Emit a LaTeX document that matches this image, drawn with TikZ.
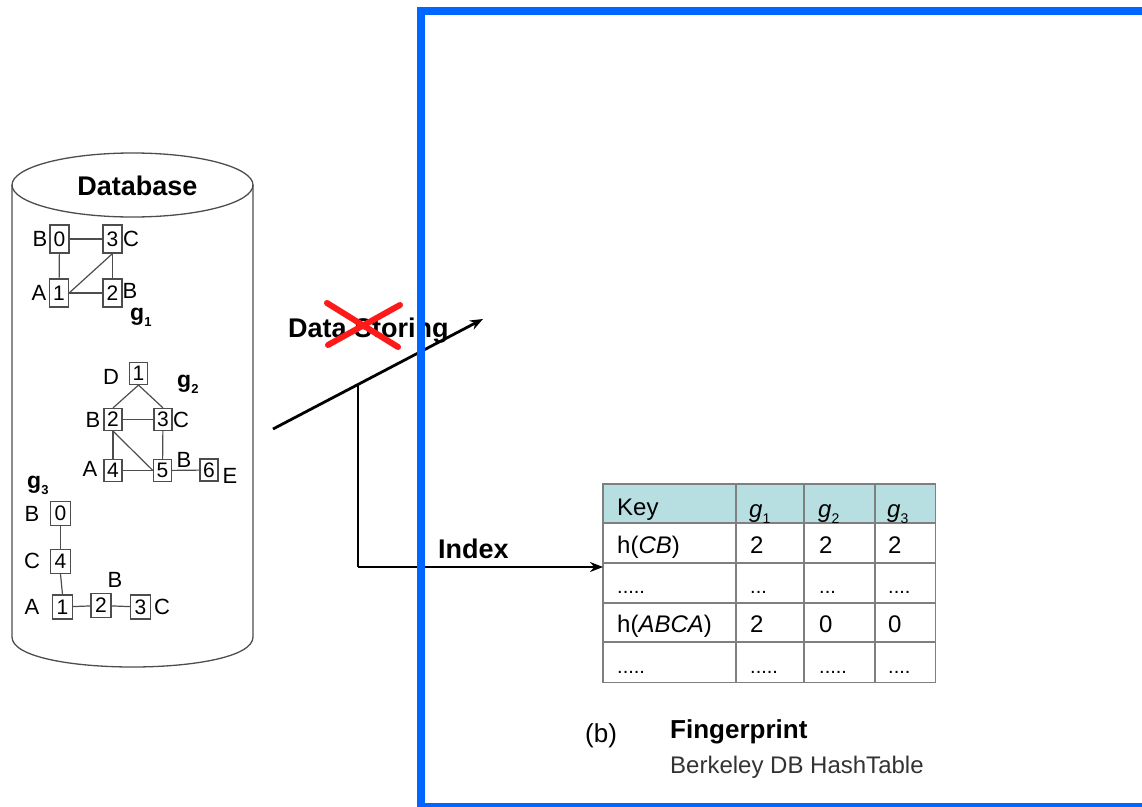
\documentclass[tikz,border=0pt]{standalone}
\usepackage{fontspec}
\setmainfont{Liberation Sans}
\usetikzlibrary{arrows.meta}
\definecolor{blueframe}{HTML}{0066FF}
\definecolor{hdrfill}{HTML}{B7DEE1}
\definecolor{tblgray}{HTML}{7F7F7F}
\definecolor{gline}{HTML}{4D4D4D}
\definecolor{redx}{HTML}{FF1A1A}
\definecolor{subtxt}{HTML}{333333}
\newcommand\fsz[1]{\fontsize{#1}{#1}\selectfont}
\newcommand\gsubb[1]{g\raisebox{-0.3em}{\fsz{13}#1}}
\newcommand\gsubi[1]{\textit{g}\raisebox{-0.25em}{\fsz{14}#1}}
\begin{document}
\begin{tikzpicture}[x=1pt,y=-1pt,
  vbox/.style={draw=gline, line width=1.2pt, inner sep=0pt, font=\fsz{21}},
  gabox/.style={vbox, minimum width=19pt, minimum height=28pt},
  gbbox/.style={vbox, minimum width=18pt, minimum height=22pt},
  gcbox/.style={vbox, minimum width=20pt, minimum height=24pt},
  lbl/.style={inner sep=0pt, font=\fsz{22}},
  gname/.style={inner sep=0pt, anchor=base west, font=\fsz{23}\bfseries},
  edge/.style={draw=gline, line width=1.2pt},
  big/.style={inner sep=0pt, font=\fsz{27}\bfseries},
  arrline/.style={line width=2.8pt, -{Stealth[length=13pt,width=10pt]}},
  tcell/.style={inner sep=0pt, anchor=base west, font=\fsz{24}},
  tdots/.style={inner sep=0pt, anchor=base west, font=\fsz{20}},
  tgrid/.style={draw=tblgray, line width=1.8pt},
  redcross/.style={draw=redx, line width=6pt, line cap=round},
  frame/.style={draw=blueframe, line width=8pt}]
\useasboundingbox (0,0) rectangle (1142,806);

% ---------------- database cylinder ----------------
\draw[line width=1.3pt, draw=gline] (132.5,185) ellipse [x radius=120.5, y radius=32];
\draw[line width=1.3pt, draw=gline] (12,185) -- (12,637)
   .. controls (12,677) and (253,677) .. (253,637) -- (253,185);
\node[big, anchor=base] (dbtitle) at (137.5,195) {Database};

% ---------------- g1 ----------------
\node[gabox] (a0) at (59.5,239) {0};
\node[gabox] (a3) at (112.5,239) {3};
\node[gabox] (a1) at (59,293) {1};
\node[gabox] (a2) at (112.5,293) {2};
\draw[edge] (a0) -- (a3);
\draw[edge] (a0) -- (a1);
\draw[edge] (a3) -- (a2);
\draw[edge] (a1) -- (a2);
\draw[edge] (a1.east) -- (a3.south);
\node[lbl] (la0) at (40,239) {B};
\node[lbl] (la3) at (131,239) {C};
\node[lbl] (la1) at (39,293) {A};
\node[lbl] (la2) at (130,291) {B};
\node[gname] (g1name) at (130,320) {\gsubb{1}};

% ---------------- g2 ----------------
\node[gbbox] (b1) at (138.5,373.5) {1};
\node[gbbox] (b2) at (113,419.5) {2};
\node[gbbox] (b3) at (163,419.5) {3};
\node[gbbox] (b4) at (113,470.5) {4};
\node[gbbox] (b5) at (162.5,470.5) {5};
\node[gbbox] (b6) at (209,470) {6};
\draw[edge] (b1.south) -- (b2.north);
\draw[edge] (b1.south) -- (b3.north);
\draw[edge] (b2) -- (b3);
\draw[edge] (b2) -- (b4);
\draw[edge] (b2.south) -- (b5.west);
\draw[edge] (b3) -- (b5);
\draw[edge] (b4) -- (b5);
\draw[edge] (b5) -- (b6);
\node[lbl] (lb1) at (111,377) {D};
\node[lbl] (lb2) at (93,420) {B};
\node[lbl] (lb3) at (181,420) {C};
\node[lbl] (lb4) at (90,469) {A};
\node[lbl] (lb5) at (184,460) {B};
\node[lbl] (lb6) at (230,476) {E};
\node[gname] (g2name) at (177,387) {\gsubb{2}};

% ---------------- g3 ----------------
\node[gname] (g3name) at (27,488) {\gsubb{3}};
\node[gcbox] (c0) at (60.5,513.5) {0};
\node[gcbox] (c4) at (60.5,561.5) {4};
\node[gcbox] (c1) at (62.5,607) {1};
\node[gcbox] (c2) at (101,605.5) {2};
\node[gcbox] (c3) at (140.5,607) {3};
\draw[edge] (c0) -- (c4);
\draw[edge] (c4.south) -- (c1.north);
\draw[edge] (c1) -- (c2);
\draw[edge] (c2) -- (c3);
\node[lbl] (lc0) at (32,514) {B};
\node[lbl] (lc4) at (32,561) {C};
\node[lbl] (lc1) at (32,607) {A};
\node[lbl] (lc2) at (115,580) {B};
\node[lbl] (lc3) at (162,607) {C};

% ---------------- table ----------------
\node[inner sep=0pt, minimum width=332pt, minimum height=198pt, anchor=north west] (tbl) at (603,484) {};
\fill[hdrfill] (603,484) rectangle (935,523);
\draw[tgrid] (603,523) -- (935,523);
\draw[tgrid] (603,563) -- (935,563);
\draw[tgrid] (603,603) -- (935,603);
\draw[tgrid] (603,642) -- (935,642);
\draw[tgrid] (736,484) -- (736,682);
\draw[tgrid] (804,484) -- (804,682);
\draw[tgrid] (875,484) -- (875,682);
\draw[tgrid] (tbl.north west) rectangle (tbl.south east);

\node[tcell] (hkey) at (617,515) {Key};
\node[tcell] (hg1) at (749,517) {\gsubi{1}};
\node[tcell] (hg2) at (818,517) {\gsubi{2}};
\node[tcell] (hg3) at (887,517) {\gsubi{3}};

\node[tcell] (r1k) at (617,553) {h(\textit{CB})};
\node[tcell] (r1a) at (750,553) {2};
\node[tcell] (r1b) at (819,553) {2};
\node[tcell] (r1c) at (888,553) {2};

\node[tdots] (r2k) at (617,593) {.....};
\node[tdots] (r2a) at (750,593) {...};
\node[tdots] (r2b) at (819,593) {...};
\node[tdots] (r2c) at (888,593) {....};

\node[tcell] (r3k) at (617,632) {h(\textit{ABCA})};
\node[tcell] (r3a) at (750,632) {2};
\node[tcell] (r3b) at (819,632) {0};
\node[tcell] (r3c) at (888,632) {0};

\node[tdots] (r4k) at (617,673) {.....};
\node[tdots] (r4a) at (750,673) {.....};
\node[tdots] (r4b) at (819,673) {.....};
\node[tdots] (r4c) at (888,673) {....};

% ---------------- captions ----------------
\node[inner sep=0pt, anchor=base west, font=\fsz{26}] (capb) at (585,742) {(b)};
\node[inner sep=0pt, anchor=base west, font=\fsz{26}\bfseries] (capfp) at (670,738) {Fingerprint};
\node[inner sep=0pt, anchor=base west, font=\fsz{24}, text=subtxt] (capdb) at (670,773) {Berkeley DB HashTable};

% ---------------- arrows and labels ----------------
\node[big, anchor=base west] (dstore) at (288,337) {Data Storing};
\node[big, anchor=base west] (idx) at (438,558) {Index};
\coordinate (ds0) at (273,429);
\coordinate (ds1) at (483,319);
\coordinate (br) at (358,384.5);
\coordinate (ixc) at (358,567);
\draw[arrline] (ds0) -- (ds1);
\draw[line width=2.8pt] (br) -- (ixc);
\draw[arrline] (ixc) -- (tbl.west |- ixc);

% red cross over "Storing"
\coordinate (x1a) at (327,303);
\coordinate (x1b) at (398,347);
\coordinate (x2a) at (400,305);
\coordinate (x2b) at (328,345);
\draw[redcross] (x1a) -- (x1b);
\draw[redcross] (x2a) -- (x2b);

% ---------------- blue frame ----------------
\draw[frame] (421,11) rectangle (1175,807);
\end{tikzpicture}
\end{document}
